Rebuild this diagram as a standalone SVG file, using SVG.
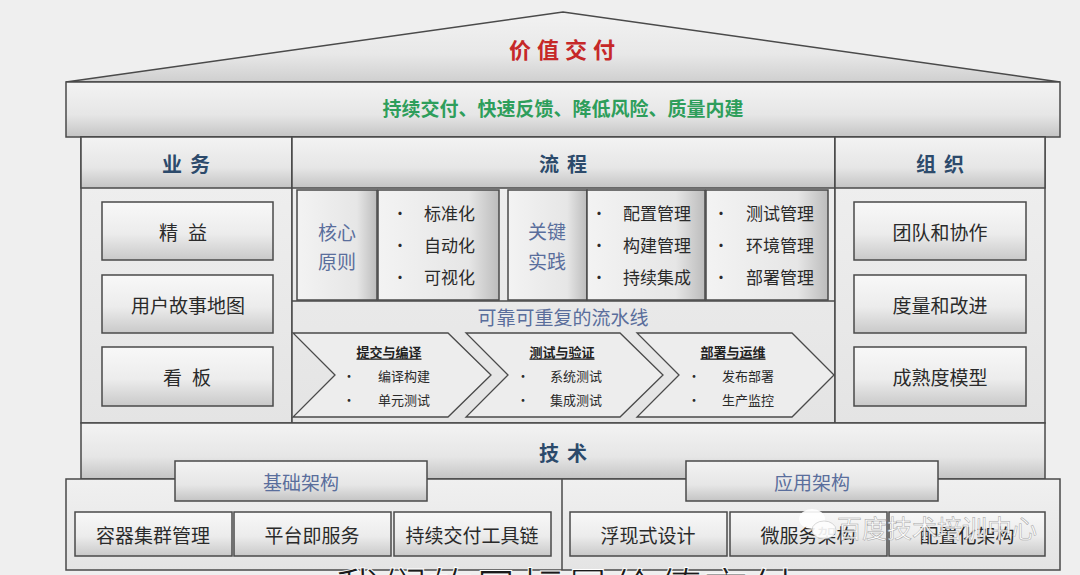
<svg xmlns="http://www.w3.org/2000/svg" width="1080" height="575" viewBox="0 0 1080 575">
<defs>
<linearGradient id="gv" x1="0" y1="0" x2="0" y2="1">
<stop offset="0" stop-color="#f8f8f8"/><stop offset="0.55" stop-color="#ececec"/><stop offset="1" stop-color="#c9c9c9"/>
</linearGradient>
<linearGradient id="gbar" x1="0" y1="0" x2="0" y2="1">
<stop offset="0" stop-color="#f3f3f3"/><stop offset="0.6" stop-color="#e6e6e6"/><stop offset="1" stop-color="#c4c4c4"/>
</linearGradient>
<linearGradient id="groof" x1="0" y1="0" x2="0" y2="1">
<stop offset="0" stop-color="#f2f2f2"/><stop offset="0.6" stop-color="#e8e8e8"/><stop offset="1" stop-color="#cfcfcf"/>
</linearGradient>
<linearGradient id="gh" x1="0" y1="0" x2="1" y2="0">
<stop offset="0" stop-color="#f3f3f3"/><stop offset="0.75" stop-color="#e6e6e6"/><stop offset="1" stop-color="#bcbcbc"/>
</linearGradient>
<linearGradient id="gcol" x1="0" y1="0" x2="0" y2="1">
<stop offset="0" stop-color="#f0f0f0"/><stop offset="1" stop-color="#e4e4e4"/>
</linearGradient>
</defs>
<style>
.ln{stroke:#4a4a4a;stroke-width:1.5}
.bx{fill:url(#gv);stroke:#4a4a4a;stroke-width:1.5}
.bar{fill:url(#gbar);stroke:#4a4a4a;stroke-width:1.5}
.hb{fill:url(#gh);stroke:#4a4a4a;stroke-width:1.5}
.col{fill:url(#gcol);stroke:#4a4a4a;stroke-width:1.5}
.chev{fill:#ededed;stroke:#4a4a4a;stroke-width:1.3}
text{font-family:"Noto Sans CJK SC","Noto Sans",sans-serif;dominant-baseline:central;text-anchor:middle}
.hd{font-size:20px;font-weight:700;fill:#2c4a6b;letter-spacing:8px}
.t{font-size:19px;fill:#2a2a2a}
.bl{font-size:19px;fill:#5a6e9c}
.it{font-size:17px;fill:#2a2a2a;text-anchor:start}
.dot{font-size:15px;fill:#2a2a2a}
.ct{font-size:13px;font-weight:700;fill:#222;text-decoration:underline}
.ci{font-size:13px;fill:#2a2a2a}
</style>
<rect x="0" y="0" width="1080" height="575" fill="#efefef"/>

<g id="roof">
<polygon points="66,82 563,12 1060,82" fill="url(#groof)" class="ln"/>
<text x="565" y="48" font-size="22" font-weight="700" fill="#c62828" letter-spacing="6">价值交付</text>
</g>
<g id="beam">
<rect x="66" y="82" width="994" height="55" class="bar"/>
<text x="563" y="107" font-size="19" font-weight="700" fill="#2e9e5b">持续交付、快速反馈、降低风险、质量内建</text>
</g>

<g id="col-business">
<rect x="81" y="137" width="211" height="286" class="col"/>
<rect x="81" y="137" width="211" height="51" class="bar"/>
<text x="190" y="163" class="hd">业务</text>
</g>
<g id="col-process">
<rect x="292" y="137" width="543" height="286" class="col"/>
<rect x="292" y="137" width="543" height="51" class="bar"/>
<text x="567" y="163" class="hd">流程</text>
<line x1="292" y1="301" x2="835" y2="301" class="ln"/>
</g>
<g id="col-org">
<rect x="835" y="137" width="210" height="286" class="col"/>
<rect x="835" y="137" width="210" height="51" class="bar"/>
<text x="944" y="163" class="hd">组织</text>
</g>

<g id="biz-lean"><rect x="102" y="202" width="171" height="58" class="bx"/><text x="188" y="231" class="t" letter-spacing="10">精益</text></g>
<g id="biz-storymap"><rect x="102" y="275" width="171" height="58" class="bx"/><text x="188" y="304" class="t">用户故事地图</text></g>
<g id="biz-kanban"><rect x="102" y="347" width="171" height="59" class="bx"/><text x="192" y="376" class="t" letter-spacing="10">看板</text></g>

<g id="org-team"><rect x="854" y="202" width="172" height="58" class="bx"/><text x="940" y="231" class="t">团队和协作</text></g>
<g id="org-measure"><rect x="854" y="275" width="172" height="58" class="bx"/><text x="940" y="304" class="t">度量和改进</text></g>
<g id="org-maturity"><rect x="854" y="347" width="172" height="59" class="bx"/><text x="940" y="376" class="t">成熟度模型</text></g>

<g id="core-principles">
<rect x="297" y="190" width="80" height="110" class="hb"/>
<text x="337" y="231" class="bl">核心</text>
<text x="337" y="260" class="bl">原则</text>
</g>
<g id="core-items">
<rect x="378" y="190" width="121" height="110" class="hb"/>
<text x="400" y="212" class="dot">•</text><text x="424" y="212" class="it">标准化</text>
<text x="400" y="244" class="dot">•</text><text x="424" y="244" class="it">自动化</text>
<text x="400" y="276" class="dot">•</text><text x="424" y="276" class="it">可视化</text>
</g>
<g id="key-practices">
<rect x="508" y="190" width="79" height="110" class="hb"/>
<text x="547" y="230" class="bl">关键</text>
<text x="547" y="260" class="bl">实践</text>
</g>
<g id="key-items-1">
<rect x="587" y="190" width="118" height="110" class="hb"/>
<text x="599" y="212" class="dot">•</text><text x="623" y="212" class="it">配置管理</text>
<text x="599" y="244" class="dot">•</text><text x="623" y="244" class="it">构建管理</text>
<text x="599" y="276" class="dot">•</text><text x="623" y="276" class="it">持续集成</text>
</g>
<g id="key-items-2">
<rect x="706" y="190" width="122" height="110" class="hb"/>
<text x="721" y="212" class="dot">•</text><text x="746" y="212" class="it">测试管理</text>
<text x="721" y="244" class="dot">•</text><text x="746" y="244" class="it">环境管理</text>
<text x="721" y="276" class="dot">•</text><text x="746" y="276" class="it">部署管理</text>
</g>

<g id="pipeline">
<text x="563" y="316" class="bl">可靠可重复的流水线</text>
</g>
<g id="stage-build">
<polygon points="293,333 448,333 491,375 448,417 293,417 335,375" class="chev"/>
<text x="389" y="351" class="ct">提交与编译</text>
<text x="349" y="375" class="ci">•</text><text x="404" y="375" class="ci">编译构建</text>
<text x="349" y="399" class="ci">•</text><text x="404" y="399" class="ci">单元测试</text>
</g>
<g id="stage-test">
<polygon points="466,333 620,333 663,375 620,417 466,417 508,375" class="chev"/>
<text x="562" y="351" class="ct">测试与验证</text>
<text x="523" y="375" class="ci">•</text><text x="576" y="375" class="ci">系统测试</text>
<text x="523" y="399" class="ci">•</text><text x="576" y="399" class="ci">集成测试</text>
</g>
<g id="stage-deploy">
<polygon points="637,333 792,333 834,375 792,417 637,417 679,375" class="chev"/>
<text x="733" y="351" class="ct">部署与运维</text>
<text x="694" y="375" class="ci">•</text><text x="748" y="375" class="ci">发布部署</text>
<text x="694" y="399" class="ci">•</text><text x="748" y="399" class="ci">生产监控</text>
</g>

<g id="tech">
<rect x="81" y="423" width="964" height="56" class="bar"/>
<text x="567" y="452" class="hd">技术</text>
</g>

<g id="base">
<rect x="66" y="479" width="994" height="91" class="col"/>
<line x1="562" y1="479" x2="562" y2="570" class="ln"/>
</g>
<g id="infra">
<rect x="175" y="461" width="252" height="40" class="bar"/>
<text x="301" y="481" class="bl" font-size="18">基础架构</text>
</g>
<g id="app-arch">
<rect x="686" y="461" width="252" height="40" class="bar"/>
<text x="812" y="481" class="bl" font-size="18">应用架构</text>
</g>
<g id="infra-1"><rect x="75" y="512" width="157" height="44" class="bx"/><text x="153" y="534" class="t">容器集群管理</text></g>
<g id="infra-2"><rect x="234" y="512" width="157" height="44" class="bx"/><text x="312" y="534" class="t">平台即服务</text></g>
<g id="infra-3"><rect x="394" y="512" width="157" height="44" class="bx"/><text x="472" y="534" class="t">持续交付工具链</text></g>
<g id="app-1"><rect x="570" y="512" width="157" height="44" class="bx"/><text x="648" y="534" class="t">浮现式设计</text></g>
<g id="app-2"><rect x="730" y="512" width="157" height="44" class="bx"/><text x="808" y="534" class="t">微服务架构</text></g>
<g id="app-3"><rect x="889" y="512" width="156" height="44" class="bx"/><text x="967" y="534" class="t">配置化架构</text></g>

<g id="watermark" opacity="0.9">
<ellipse cx="812" cy="519" rx="13" ry="10" fill="#ffffff"/>
<ellipse cx="824" cy="530" rx="12" ry="9" fill="#ffffff" stroke="#bbbbbb" stroke-width="0.6"/>
<text x="937" y="527" font-size="25" fill="#ffffff" stroke="#9a9a9a" stroke-width="0.5">百度技术培训中心</text>
</g>
<g id="subtitle">
<text x="565" y="586" font-size="46" fill="#1a1a1a" stroke="#ffffff" stroke-width="1">我们的目标是价值交付</text>
</g>
</svg>
